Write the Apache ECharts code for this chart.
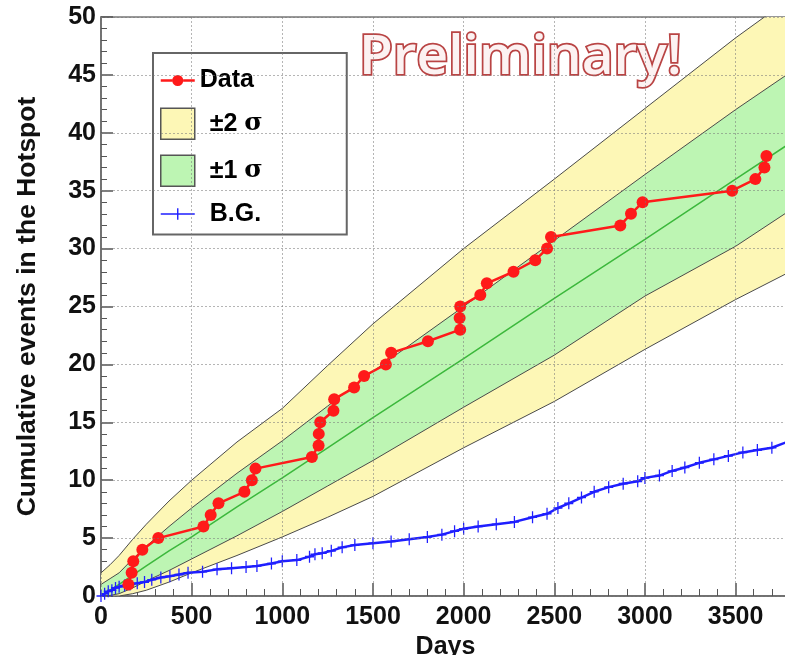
<html>
<head>
<meta charset="utf-8">
<title>Hotspot</title>
<script src="https://cdn.jsdelivr.net/npm/echarts@6/dist/echarts.min.js"></script>
</head>
<body style="margin:0;padding:0;background:#fff;">
<div id="main" style="width:785px;height:655px;"></div>
<script>
// red points: day of each event, cumulative count
var dataDays = [151, 169, 178, 228, 316, 565, 605, 648, 791, 832, 852, 1163, 1200, 1201, 1209, 1282, 1286, 1396, 1451, 1571, 1600, 1803,
    1981, 1978, 1981, 2092, 2128, 2275, 2395, 2460, 2482, 2864, 2923, 2987, 3481, 3609, 3659, 3670];
var dataCount = [1, 2, 3, 4, 5, 6, 7, 8, 9, 10, 11, 12, 13, 14, 15, 16, 17, 18, 19, 20, 21, 22,
    23, 24, 25, 26, 27, 28, 29, 30, 31, 32, 33, 34, 35, 36, 37, 38];

// expectation and bands
var bandDays = [0, 50, 100, 175, 250, 375, 500, 750, 1000, 1250, 1500, 2000, 2500, 3000, 3500, 3800];
var meanVals = [0, 0.5, 1.0, 1.8, 2.6, 3.9, 5.1, 7.7, 10.2, 12.8, 15.4, 20.5, 25.7, 30.8, 36.0, 39.1];
var lower2 = [0, 0, 0, 0.2, 0.5, 1.2, 2.0, 3.5, 5.1, 6.8, 8.6, 12.8, 16.8, 21.3, 25.6, 28.0];
var lower1 = [0, 0.05, 0.2, 0.7, 1.3, 2.2, 3.2, 5.2, 7.3, 9.5, 11.7, 16.3, 20.8, 25.9, 30.2, 33.3];
var upper1 = [1.0, 1.5, 2.0, 3.2, 4.3, 6.0, 7.6, 10.6, 13.4, 16.4, 19.4, 25.0, 30.7, 36.4, 42.0, 45.2];
var upper2 = [2.0, 2.7, 3.5, 4.9, 6.2, 8.2, 10.0, 13.3, 16.2, 19.9, 23.5, 30.0, 36.0, 42.1, 48.2, 51.6];

// background (B.G.) cumulative
var bgDays = [0, 20, 40, 60, 80, 100, 130, 160, 200, 240, 280, 330, 380, 430, 480, 560, 640, 720, 800, 860, 940, 1000,
    1080, 1150, 1180, 1220, 1270, 1330, 1400, 1500, 1600, 1700, 1800, 1880, 1950, 2000, 2080, 2180, 2280, 2380, 2460,
    2520, 2580, 2650, 2720, 2800, 2880, 2960, 3000, 3080, 3150, 3220, 3300, 3380, 3460, 3540, 3620, 3700, 3800];
var bgVals = [0, 0.2, 0.4, 0.5, 0.7, 0.8, 0.9, 1.0, 1.1, 1.2, 1.4, 1.6, 1.7, 1.85, 2.0, 2.1, 2.3, 2.4, 2.5, 2.6, 2.8, 3.0,
    3.1, 3.4, 3.6, 3.7, 3.9, 4.2, 4.4, 4.55, 4.7, 4.9, 5.1, 5.3, 5.6, 5.8, 6.0, 6.2, 6.4, 6.8, 7.1,
    7.6, 8.0, 8.5, 9.0, 9.4, 9.7, 9.9, 10.2, 10.4, 10.8, 11.1, 11.5, 11.8, 12.1, 12.4, 12.6, 12.8, 13.4];

var yTicks = [0, 5, 10, 15, 20, 25, 30, 35, 40, 45, 50];

function pairs(xs, ys) {
    var out = [];
    for (var i = 0; i < xs.length; i++) out.push([xs[i], ys[i]]);
    return out;
}

var font = 'Liberation Sans, Arial, sans-serif';
var yellow = '#fdf7b6';
var green = '#bdf5b3';
var edge = '#4a4a4a';
var plusPath = 'path://M-0.7,-6h1.4v12h-1.4z M-5,-0.8h10v1.6h-10z';

// filled band between two curves, drawn through the axes
function band(name, lo, hi, color) {
    return {
        name: name,
        type: 'custom',
        coordinateSystem: 'cartesian2d',
        clip: true,
        silent: true,
        z: 1,
        itemStyle: { color: color },
        data: [[0, 0]],
        renderItem: function (params, api) {
            var pts = [];
            for (var i = 0; i < bandDays.length; i++) pts.push(api.coord([bandDays[i], hi[i]]));
            for (var j = bandDays.length - 1; j >= 0; j--) pts.push(api.coord([bandDays[j], lo[j]]));
            return { type: 'polygon', shape: { points: pts }, style: { fill: color, stroke: null } };
        }
    };
}
function edgeLine(name, vals) {
    return {
        name: name, type: 'line', symbol: 'none', silent: true, z: 2,
        lineStyle: { color: edge, width: 1 }, data: pairs(bandDays, vals)
    };
}

var myChart = echarts.init(document.getElementById('main'));

option = {
    animation: false,
    title: {
        text: 'Preliminary!',
        left: 354,
        top: 26,
        textStyle: {
            fontFamily: 'Open Sans, sans-serif',
            fontWeight: 600,
            fontSize: 55,
            color: '#fcf2f2',
            textBorderColor: '#b94444',
            textBorderWidth: 3.5
        }
    },
    legend: {
        orient: 'vertical',
        left: 153,
        top: 53,
        padding: [15, 84, 8, 7],
        itemWidth: 34,
        itemHeight: 31,
        itemGap: 14.5,
        backgroundColor: '#fff',
        borderColor: '#666',
        borderWidth: 2,
        textStyle: {
            color: '#000',
            fontFamily: font,
            fontWeight: 'bold',
            fontSize: 25,
            rich: {
                b: { fontFamily: font, fontWeight: 'bold', fontSize: 25, color: '#000', padding: [0, 0, 0, 10] },
                s: { fontFamily: 'DejaVu Serif, serif', fontSize: 25, color: '#000' }
            }
        },
        formatter: function (name) {
            if (name == '±2 σ') return '{b|±2} {s|σ}';
            if (name == '±1 σ') return '{b|±1} {s|σ}';
            if (name == 'B.G.') return '{b|B.G.}';
            return name;
        },
        data: [
            { name: 'Data', icon: 'path://M0,14.5h11.6v2.4h-11.6z M22.4,14.5h11.6v2.4h-11.6z M11.5,15.7a5.5,5.5 0 1,0 11,0a5.5,5.5 0 1,0 -11,0z' },
            { name: '±2 σ', icon: 'rect', itemStyle: { color: yellow, borderColor: '#555', borderWidth: 1.5 } },
            { name: '±1 σ', icon: 'rect', itemStyle: { color: green, borderColor: '#555', borderWidth: 1.5 } },
            { name: 'B.G.', icon: 'path://M0,15h34v1.6h-34z M16.3,10h1.4v11.6h-1.4z' }
        ]
    },
    grid: {
        left: 101,
        right: -5,
        top: 17,
        bottom: 59,
        outerBoundsMode: 'none',
        show: true,
        borderColor: '#777',
        borderWidth: 1.5
    },
    xAxis: [{
        type: 'value',
        min: 0,
        max: 3800,
        interval: 500,
        name: 'Days',
        nameLocation: 'middle',
        nameGap: 36,
        nameTextStyle: { fontFamily: font, fontWeight: 'bold', fontSize: 25, color: '#111' },
        axisLine: { show: true, lineStyle: { color: '#666', width: 1.5 } },
        axisTick: { inside: true, length: 13, lineStyle: { color: '#555', width: 1.5 } },
        minorTick: { show: true, splitNumber: 5, length: 7, lineStyle: { color: '#555', width: 1 } },
        axisLabel: {
            margin: 9, fontFamily: font, fontWeight: 'bold', fontSize: 25, color: '#111',
            formatter: function (v) { return v > 3500 ? '' : v; }
        },
        splitLine: { show: false }
    }, {
        type: 'value', min: 0, max: 3800, interval: 500, z: 10,
        axisLine: { show: false }, axisTick: { show: false }, axisLabel: { show: false },
        splitLine: { show: true, lineStyle: { color: 'rgba(120,120,120,0.55)', type: [2, 2], width: 1 } }
    }],
    yAxis: [{
        type: 'value',
        min: 0,
        max: 50,
        interval: 5,
        name: 'Cumulative events in the Hotspot',
        nameLocation: 'middle',
        nameGap: 60,
        nameTextStyle: { fontFamily: font, fontWeight: 'bold', fontSize: 26.5, color: '#111' },
        axisLine: { show: true, lineStyle: { color: '#666', width: 1.5 } },
        axisTick: { inside: true, length: 12, lineStyle: { color: '#555', width: 1.5 } },
        minorTick: { show: true, splitNumber: 5, length: 6, lineStyle: { color: '#555', width: 1 } },
        axisLabel: {
            margin: 5, fontFamily: font, fontWeight: 'bold', fontSize: 25, color: '#111',
            formatter: function (v) { return yTicks.indexOf(v) >= 0 ? v : ''; }
        },
        splitLine: { show: false }
    }, {
        type: 'value', min: 0, max: 50, interval: 5, z: 10,
        axisLine: { show: false }, axisTick: { show: false }, axisLabel: { show: false },
        splitLine: { show: true, lineStyle: { color: 'rgba(120,120,120,0.55)', type: [2, 2], width: 1 } }
    }],
    series: [
        band('±2 σ', lower2, upper2, yellow),
        band('±1 σ', lower1, upper1, green),
        edgeLine('lower 2 sigma', lower2),
        edgeLine('lower 1 sigma', lower1),
        edgeLine('upper 1 sigma', upper1),
        edgeLine('upper 2 sigma', upper2),
        {
            name: 'mean', type: 'line', symbol: 'none', silent: true, z: 2,
            lineStyle: { color: '#3cb83c', width: 1.5 }, data: pairs(bandDays, meanVals)
        },
        {
            name: 'B.G.', type: 'line', symbol: plusPath, symbolSize: [9, 12], symbolKeepAspect: false,
            lineStyle: { color: '#1f1fff', width: 2.5 }, itemStyle: { color: '#1f1fff' },
            data: pairs(bgDays, bgVals), z: 3
        },
        {
            name: 'Data', type: 'line', symbol: 'circle', symbolSize: 12,
            lineStyle: { color: '#ff1a1a', width: 2.5 }, itemStyle: { color: '#ff1a1a' },
            data: pairs(dataDays, dataCount), z: 4
        }
    ]
};

myChart.setOption(option);
</script>
</body>
</html>
